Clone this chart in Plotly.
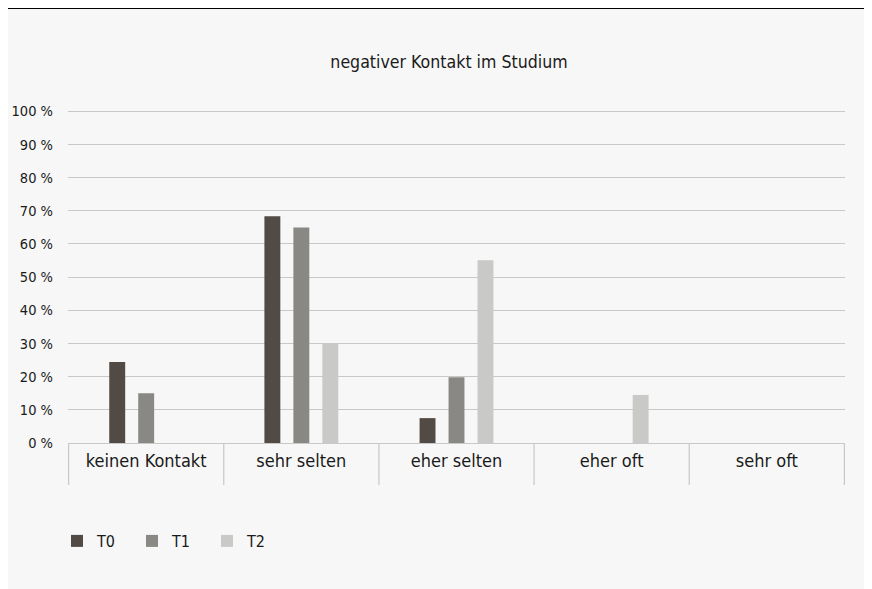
import plotly.graph_objects as go

categories = ["keinen Kontakt", "sehr selten", "eher selten", "eher oft", "sehr oft"]
series_names = ["T0", "T1", "T2"]
t0_values = [24.4, 68.4, 7.5, 0, 0]
t1_values = [15.0, 65.0, 19.8, 0, 0]
t2_values = [0, 30.0, 55.1, 14.5, 0]
colors = ["#524a45", "#8a8884", "#c9c9c7"]
y_ticks = list(range(0, 101, 10))
y_tick_labels = [f"{v} %" for v in y_ticks]

# page body adds an 8px offset, so the figure is sized to the remaining window
W, H = 864, 581
ML, MR, MT, MB = 60, 27, 100, 146
PW, PH = W - ML - MR, H - MT - MB
FONT = "DejaVu Sans Condensed, Liberation Sans Narrow, sans-serif"

fig = go.Figure()
for name, vals, col in zip(series_names, [t0_values, t1_values, t2_values], colors):
    fig.add_trace(go.Bar(x=categories, y=vals, name=name, marker_color=col,
                         marker_line_width=0))

def px_x(p):
    return (p - ML) / PW

def px_y(p):
    return (H - MB - p) / PH

shapes = []
for i in range(len(categories) + 1):
    shapes.append(dict(type="line", xref="x", yref="paper", x0=i - 0.5, x1=i - 0.5,
                       y0=0, y1=px_y(477), line=dict(color="#c8c8c8", width=1.2)))
shapes.append(dict(type="line", xref="paper", yref="paper", x0=px_x(-3), x1=px_x(W + 5),
                   y0=px_y(0.2), y1=px_y(0.2), line=dict(color="black", width=1.6)))

fig.update_layout(
    width=W, height=H,
    margin=dict(l=ML, r=MR, t=MT, b=MB, autoexpand=False),
    paper_bgcolor="#f7f7f7", plot_bgcolor="#f7f7f7",
    font=dict(family=FONT, color="#1a1a1a", size=14),
    title=dict(text="negativer Kontakt im Studium", x=441 / W, xanchor="center",
               y=1 - 54 / H, yanchor="middle", font=dict(size=17.6, family=FONT)),
    barmode="group", bargap=0.44, bargroupgap=0.45,
    showlegend=True,
    legend=dict(orientation="h", x=px_x(49), xanchor="left", y=px_y(533), yanchor="middle",
                font=dict(size=16), entrywidth=30, entrywidthmode="pixels",
                bgcolor="rgba(0,0,0,0)"),
    shapes=shapes,
)
fig.update_xaxes(showline=True, linecolor="#c8c8c8", linewidth=1.2, ticks="",
                 tickfont=dict(size=18), ticklabelstandoff=1, showgrid=False,
                 automargin=False)
fig.update_yaxes(range=[0, 101], tickvals=y_ticks, ticktext=y_tick_labels,
                 showgrid=True, gridcolor="#c8c8c8", gridwidth=1.2, zeroline=False,
                 tickfont=dict(size=14.5), ticklabelstandoff=14, showline=False,
                 automargin=False)

fig.write_html("out.html")
